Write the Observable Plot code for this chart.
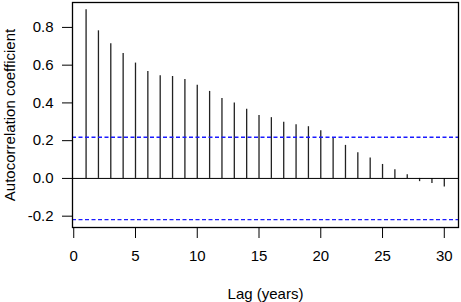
<!DOCTYPE html>
<html>
<head>
<meta charset="utf-8">
<script src="https://cdn.jsdelivr.net/npm/d3@7"></script>
<script src="https://cdn.jsdelivr.net/npm/@observablehq/plot@0.6"></script>
<style>
  html, body { margin: 0; padding: 0; background: #fff; }
</style>
</head>
<body>
<div id="chart"></div>
<script>
const lags = [1,2,3,4,5,6,7,8,9,10,11,12,13,14,15,16,17,18,19,20,21,22,23,24,25,26,27,28,29,30];
const acf = [0.894,0.782,0.713,0.662,0.611,0.567,0.544,0.540,0.524,0.494,0.461,0.424,0.399,0.366,0.334,0.322,0.298,0.284,0.274,0.253,0.217,0.175,0.136,0.108,0.074,0.046,0.020,-0.017,-0.027,-0.046];
const confBound = [0.218, -0.218];
const xTicks = [0,5,10,15,20,25,30];
const yTicks = [-0.2,0,0.2,0.4,0.6,0.8];

const data = lags.map((l, i) => ({lag: l, acf: acf[i]}));

const chart = Plot.plot({
  width: 461,
  height: 302,
  marginLeft: 72,
  marginRight: 3,
  marginTop: 2,
  marginBottom: 75,
  style: {fontFamily: "'Liberation Sans', Arial, sans-serif", fontSize: "15px", color: "#000", background: "#fff"},
  x: {domain: [-0.1, 31.15]},
  y: {domain: [-0.26, 0.932]},
  marks: [
    Plot.ruleX(data, {x: "lag", y1: 0, y2: "acf", stroke: "#222", strokeWidth: 1.3}),
    Plot.ruleY([0], {stroke: "#000", strokeWidth: 1}),
    Plot.ruleY(confBound, {stroke: "#1a1aff", strokeWidth: 1.3, strokeDasharray: "4,2.5"}),
    Plot.frame({stroke: "#000", strokeWidth: 1.3}),
    Plot.axisX({ticks: xTicks, tickSize: 11, tickPadding: 12, tickFormat: d => String(d),
      label: "Lag (years)", labelAnchor: "center", labelArrow: "none", labelOffset: 71, stroke: "#000"}),
    Plot.axisY({ticks: yTicks, tickSize: 10, tickPadding: 9, tickFormat: d => d.toFixed(1),
      label: "Autocorrelation coefficient", labelAnchor: "center", labelArrow: "none", labelOffset: 68, stroke: "#000"})
  ]
});
document.getElementById("chart").appendChild(chart);
</script>
</body>
</html>
